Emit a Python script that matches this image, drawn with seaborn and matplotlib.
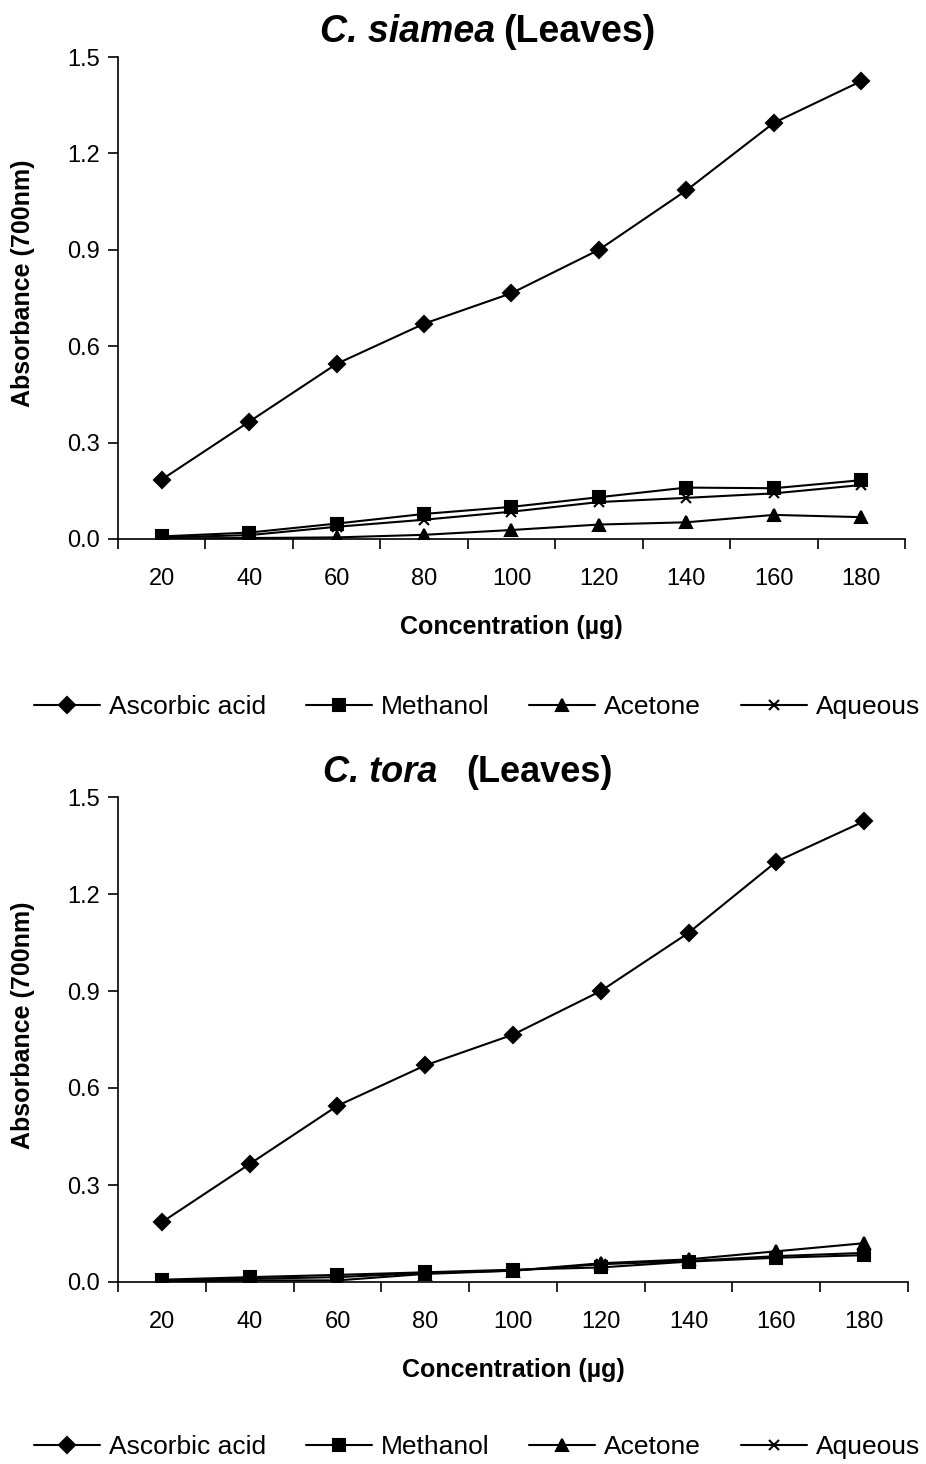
import numpy as np
import pandas as pd
import matplotlib
matplotlib.use('Agg')
import matplotlib.pyplot as plt
import seaborn as sns

sns.set_style('white')
plt.rcParams['font.family'] = ['Liberation Sans', 'DejaVu Sans']
for key in ['text.color', 'axes.labelcolor', 'xtick.color', 'ytick.color']:
    plt.rcParams[key] = 'black'

concentration = [20, 40, 60, 80, 100, 120, 140, 160, 180]
series_names = ['Ascorbic acid', 'Methanol', 'Acetone', 'Aqueous']

# C. siamea (Leaves)
siamea_ascorbic = [0.185, 0.365, 0.545, 0.67, 0.765, 0.90, 1.085, 1.295, 1.425]
siamea_methanol = [0.008, 0.020, 0.048, 0.078, 0.100, 0.130, 0.160, 0.158, 0.183]
siamea_acetone = [0.002, 0.003, 0.005, 0.013, 0.028, 0.045, 0.052, 0.075, 0.068]
siamea_aqueous = [0.005, 0.012, 0.038, 0.060, 0.085, 0.115, 0.128, 0.142, 0.168]

# C. tora (Leaves)
tora_ascorbic = [0.185, 0.365, 0.545, 0.67, 0.765, 0.90, 1.080, 1.300, 1.425]
tora_methanol = [0.007, 0.015, 0.022, 0.030, 0.038, 0.045, 0.063, 0.075, 0.083]
tora_acetone = [0.002, 0.005, 0.005, 0.025, 0.035, 0.058, 0.070, 0.095, 0.120]
tora_aqueous = [0.005, 0.010, 0.015, 0.028, 0.035, 0.055, 0.065, 0.080, 0.090]

markers = {'Ascorbic acid': 'D', 'Methanol': 's', 'Acetone': '^', 'Aqueous': 'x'}
msizes = {'Ascorbic acid': 8, 'Methanol': 8, 'Acetone': 9, 'Aqueous': 7}


def make_frame(values):
    rows = []
    for name, vals in zip(series_names, values):
        for i, v in enumerate(vals):
            rows.append({'pos': i + 1, 'value': v, 'series': name})
    return pd.DataFrame(rows)


def draw_panel(ax, df, legend_y):
    for name in series_names:
        sub = df[df['series'] == name]
        sns.lineplot(data=sub, x='pos', y='value', ax=ax, color='black',
                     linewidth=1.5, marker=markers[name], markersize=msizes[name],
                     markeredgecolor='black', markerfacecolor='black',
                     markeredgewidth=1.5, label=name)
    ax.set_xlim(0.5, 9.5)
    ax.set_ylim(0, 1.5)
    ax.set_yticks([0, 0.3, 0.6, 0.9, 1.2, 1.5])
    ax.set_yticklabels(['0.0', '0.3', '0.6', '0.9', '1.2', '1.5'])
    ax.set_xticks(np.arange(0.5, 10, 1))
    ax.set_xticklabels([])
    ax.set_xticks(np.arange(1, 10), minor=True)
    ax.set_xticklabels([str(c) for c in concentration], minor=True)
    ax.tick_params(axis='x', which='major', direction='out', length=7, width=1.2, bottom=True)
    ax.tick_params(axis='x', which='minor', length=0, pad=21, labelsize=17, bottom=True)
    ax.tick_params(axis='y', direction='out', length=7, width=1.2, labelsize=17, left=True, pad=6)
    for s in ['top', 'right']:
        ax.spines[s].set_visible(False)
    for s in ['left', 'bottom']:
        ax.spines[s].set_color('black')
        ax.spines[s].set_linewidth(1.2)
    ax.set_xlabel('Concentration (µg)', fontsize=18, fontweight='bold', labelpad=18)
    ax.set_ylabel('Absorbance (700nm)', fontsize=18, fontweight='bold')
    ax.yaxis.set_label_coords(-0.105, 0.53)
    handles, labels = ax.get_legend_handles_labels()
    ax.get_legend().remove()
    fig.legend(handles, labels, loc='center', bbox_to_anchor=(477 / 926, 1 - legend_y / 1464),
               ncol=4, frameon=False, fontsize=19, handlelength=2.5,
               columnspacing=1.5, handletextpad=0.35, borderpad=0)


fig = plt.figure(figsize=(9.26, 14.64), dpi=100)
ax1 = fig.add_axes([118 / 926, 1 - 539 / 1464, (905 - 118) / 926, (539 - 57) / 1464])
ax2 = fig.add_axes([118 / 926, 1 - 1282 / 1464, (908 - 118) / 926, (1282 - 797) / 1464])

draw_panel(ax1, make_frame([siamea_ascorbic, siamea_methanol, siamea_acetone, siamea_aqueous]), 707)
draw_panel(ax2, make_frame([tora_ascorbic, tora_methanol, tora_acetone, tora_aqueous]), 1447)

fig.text(495 / 926, 1 - 32 / 1464, 'C. siamea', ha='right', va='center',
         fontsize=27, fontweight='bold', fontstyle='italic')
fig.text(503 / 926, 1 - 32 / 1464, '(Leaves)', ha='left', va='center',
         fontsize=27, fontweight='bold')
fig.text(437 / 926, 1 - 772 / 1464, 'C. tora', ha='right', va='center',
         fontsize=26, fontweight='bold', fontstyle='italic')
fig.text(466 / 926, 1 - 772 / 1464, '(Leaves)', ha='left', va='center',
         fontsize=26, fontweight='bold')

fig.savefig('out.png', dpi=100)
